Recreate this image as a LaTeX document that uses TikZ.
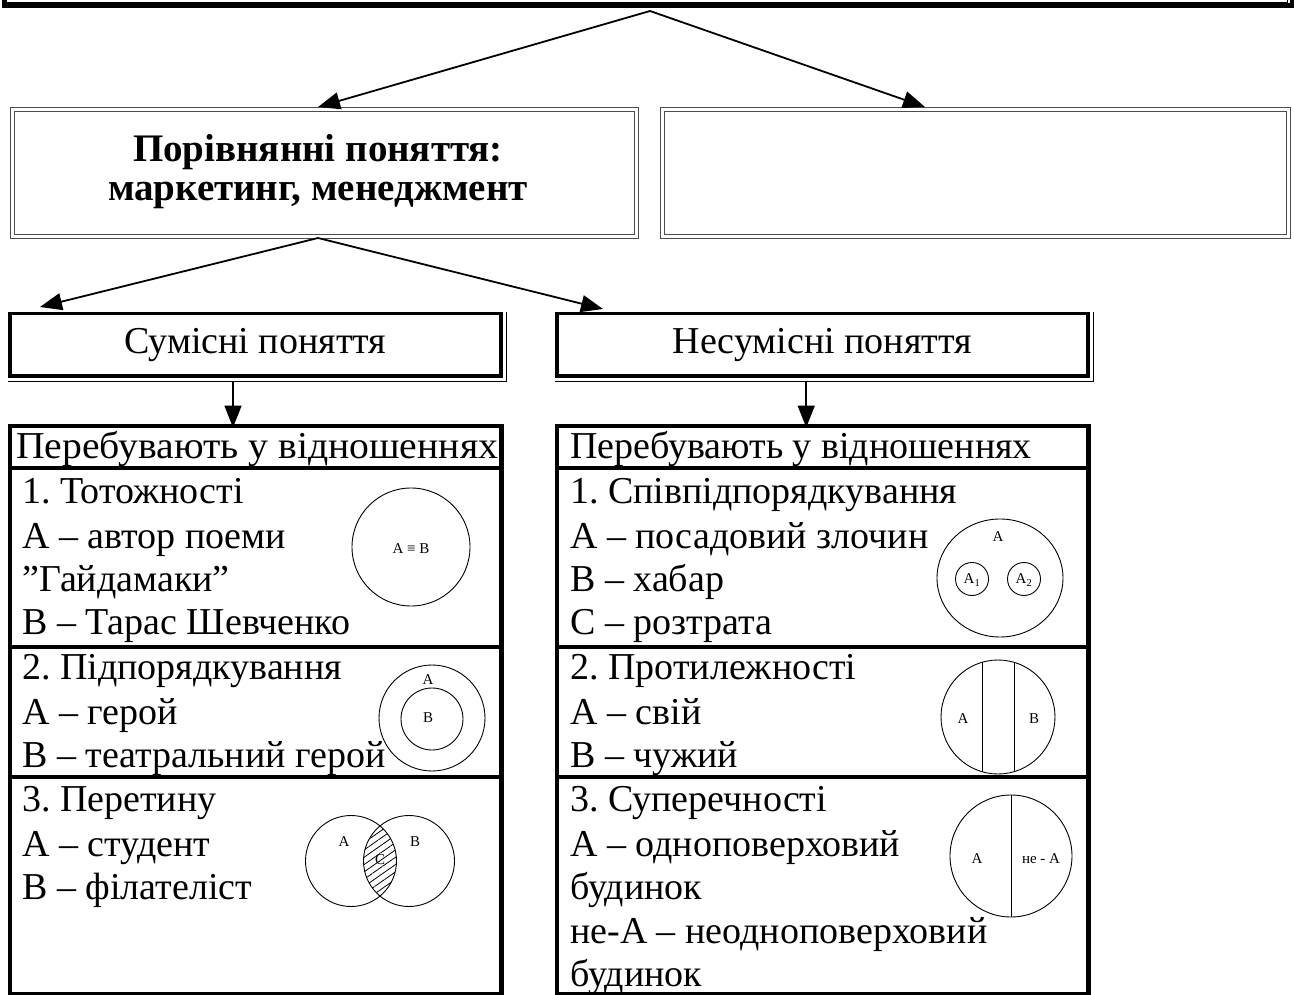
\documentclass[tikz,border=0pt]{standalone}
\usepackage{fontspec}
\setmainfont{Liberation Serif}
\usetikzlibrary{arrows.meta,patterns.meta,calc}
\frenchspacing

\begin{document}
\begin{tikzpicture}[x=1pt,y=-1pt,
  conn/.style={line width=1.8pt,-{Triangle[length=22pt,width=17pt]}},
  dbox/.style={draw=black!70,double,double distance=2.6pt,line width=0.9pt,
    anchor=north west,inner sep=0pt},
  hbox/.style={draw,line width=3.5pt,anchor=north west,inner sep=0pt},
  cell/.style={draw,line width=3.5pt,anchor=north west,inner sep=0pt},
  big/.style={font=\fontsize{38}{44}\selectfont},
  bigb/.style={font=\fontsize{39}{44}\selectfont\bfseries},
  ln/.style={anchor=base west,inner sep=0pt,font=\fontsize{38}{44}\selectfont},
  sm/.style={inner sep=0pt,font=\fontsize{15}{15}\selectfont},
  ring/.style={draw,line width=0.9pt}]
\useasboundingbox (0,0) rectangle (1294,995);

% frame of the top block (only its lower edge is in view)
\node[draw,line width=5pt,anchor=south west,minimum width=1288pt,minimum height=80pt,inner sep=0pt] (top) at (2,8) {};
\draw[line width=0.8pt] (6,-20) -- (6,2) -- (1287,2) -- (1287,-20);
\coordinate (ts) at (650,11);

% second level
\node[dbox,minimum width=624pt,minimum height=127pt] (b1) at (12,109) {};
\node[bigb,anchor=base] (b1t1) at (318,162) {Порівнянні поняття:};
\node[bigb,anchor=base] (b1t2) at (318,201) {маркетинг, менеджмент};
\node[dbox,minimum width=626pt,minimum height=127pt] (b2) at (662,109) {};

\coordinate (b1in) at (318,107);
\coordinate (b2in) at (925,107);
\draw[conn] (ts) -- (b1in);
\draw[conn] (ts) -- (b2in);

% third level
\node[hbox,minimum width=491pt,minimum height=62pt] (c1) at (8,312) {};
\node[big] (c1t) at (c1.center) {Сумісні поняття};
\draw[line width=0.9pt] ($(c1.north east)+(4,0)$) -- ($(c1.south east)+(4,4)$) -- ($(c1.south west)+(0,4)$);
\node[hbox,minimum width=531pt,minimum height=62pt] (c2) at (555,312) {};
\node[big] (c2t) at (c2.center) {Несумісні поняття};
\draw[line width=0.9pt] ($(c2.north east)+(4,0)$) -- ($(c2.south east)+(4,4)$) -- ($(c2.south west)+(0,4)$);

\coordinate (bs) at (318,238);
\coordinate (c1in) at (40,307);
\coordinate (c2in) at (603,309);
\draw[conn] (bs) -- (c1in);
\draw[conn] (bs) -- (c2in);
\draw[conn] ($(c1.south west)!0.455!(c1.south east)+(0,4)$) -- ($(c1.south west)!0.455!(c1.south east)+(0,50)$);
\draw[conn] ($(c2.south west)!0.47!(c2.south east)+(0,4)$) -- ($(c2.south west)!0.47!(c2.south east)+(0,50)$);

% left table
\node[cell,minimum width=491pt,minimum height=42pt] (lh) at (8,424) {};
\node[cell,minimum width=491pt,minimum height=179pt] (l1) at (8,466) {};
\node[cell,minimum width=491pt,minimum height=130pt] (l2) at (8,645) {};
\node[cell,minimum width=491pt,minimum height=217pt] (l3) at (8,775) {};
\draw[line width=0.9pt] (503,424) -- (503,995);

\node[ln] at (16,458) {\scalebox{1.044}[1]{Перебувають у відношеннях}};
\node[ln] at (22,503) {1. Тотожності};
\node[ln] at (22,548) {А – автор поеми};
\node[ln] at (22,591) {”Гайдамаки”};
\node[ln] at (22,634) {В – Тарас Шевченко};
\node[ln] at (22,679) {2. Підпорядкування};
\node[ln] at (22,724) {А – герой};
\node[ln] at (22,767) {В – театральний герой};
\node[ln] at (22,811) {3. Перетину};
\node[ln] at (22,856) {А – студент};
\node[ln] at (22,899) {В – філателіст};

% identity
\draw[ring] (411,547) circle (59);
\node[sm] at (411,549) {A ≡ B};
% subordination
\draw[ring] (432,718) circle (53);
\draw[ring] (432,719) circle (31);
\node[sm] at (428,680) {A};
\node[sm] at (428,718) {B};
% intersection
\begin{scope}
  \clip (351,861) circle (45.5);
  \fill[pattern={Lines[angle=35,distance=6pt,line width=0.8pt]}] (409,861) circle (45.5);
\end{scope}
\draw[ring] (351,861) circle (45.5);
\draw[ring] (409,861) circle (45.5);
\node[sm] at (344,842) {A};
\node[sm] at (415,842) {B};
\node[sm] at (380,860) {C};

% right table
\node[cell,minimum width=531pt,minimum height=42pt] (rh) at (555,424) {};
\node[cell,minimum width=531pt,minimum height=179pt] (r1) at (555,466) {};
\node[cell,minimum width=531pt,minimum height=130pt] (r2) at (555,645) {};
\node[cell,minimum width=531pt,minimum height=217pt] (r3) at (555,775) {};
\draw[line width=0.9pt] (1090,424) -- (1090,995);

\node[ln] at (570,458) {Перебувають у відношеннях};
\node[ln] at (570,503) {1. Співпідпорядкування};
\node[ln] at (570,548) {А – посадовий злочин};
\node[ln] at (570,591) {В – хабар};
\node[ln] at (570,634) {С – розтрата};
\node[ln] at (570,679) {2. Протилежності};
\node[ln] at (570,724) {А – свій};
\node[ln] at (570,767) {В – чужий};
\node[ln] at (570,811) {3. Суперечності};
\node[ln] at (570,856) {А – одноповерховий};
\node[ln] at (570,899) {будинок};
\node[ln] at (570,943) {не-А – неодноповерховий};
\node[ln] at (570,986) {будинок};

% co-subordination
\draw[ring] (1000,578) ellipse [x radius=63, y radius=59];
\node[sm] at (998,537) {A};
\draw[ring] (972,579) circle (16.5);
\draw[ring] (1024,579) circle (16.5);
\node[sm] at (972,580) {A\textsubscript{1}};
\node[sm] at (1024,580) {A\textsubscript{2}};
% contrariety
\draw[ring] (998,717) circle (57);
\begin{scope}
  \clip (998,717) circle (57);
  \draw[ring] (982,640) -- (982,800);
  \draw[ring] (1014,640) -- (1014,800);
\end{scope}
\node[sm] at (963,719) {A};
\node[sm] at (1034,719) {B};
% contradiction
\draw[ring] (1011,856) circle (61);
\draw[ring] (1011,795) -- (1011,917);
\node[sm] at (977,859) {A};
\node[sm] at (1041,859) {не - А};
\end{tikzpicture}
\end{document}
